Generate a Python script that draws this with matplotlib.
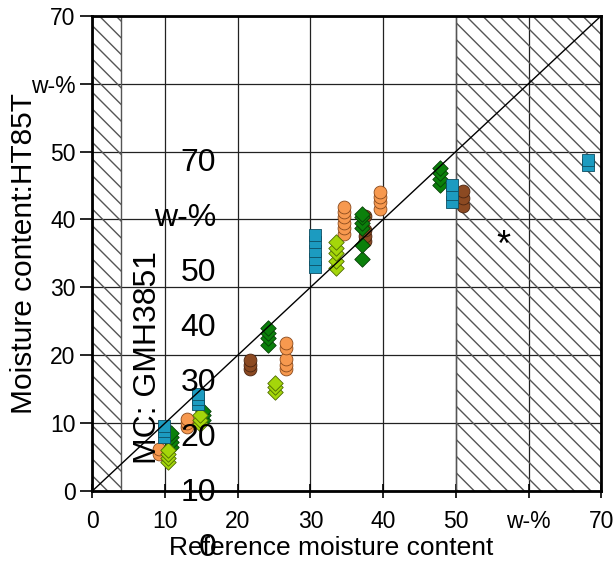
import matplotlib.pyplot as plt
from matplotlib.patches import Rectangle

plt.rcParams["font.family"] = ["Liberation Sans", "DejaVu Sans"]
plt.rcParams["hatch.color"] = "#555555"
plt.rcParams["hatch.linewidth"] = 1.0

# readings: reference moisture content (x) vs meter reading (y), w-%
blue_x = [9.8, 9.8, 9.8, 14.5, 14.5, 14.5, 30.6, 30.6, 30.6, 30.6, 30.6,
          49.5, 49.5, 49.5, 68.2, 68.2]
blue_y = [8.0, 8.8, 9.5, 12.8, 13.6, 14.3, 33.0, 34.2, 35.4, 36.6, 37.7,
          42.5, 43.8, 45.0, 48.0, 48.8]

orange_x = [9.2, 9.2, 13.0, 13.0, 13.0, 26.6, 26.6, 26.6, 26.6, 26.6,
            34.6, 34.6, 34.6, 34.6, 34.6, 34.6, 39.6, 39.6, 39.6, 39.6]
orange_y = [5.5, 6.2, 9.4, 10.0, 10.6, 17.9, 18.6, 19.4, 21.0, 21.8,
            37.9, 38.7, 39.5, 40.3, 41.1, 41.8, 41.6, 42.5, 43.3, 44.0]

brown_x = [21.7, 21.7, 21.7, 37.5, 37.5, 37.5, 37.5, 51.0, 51.0, 51.0]
brown_y = [18.0, 18.6, 19.3, 36.8, 37.6, 38.5, 40.5, 42.0, 43.2, 44.2]

green_x = [10.8, 10.8, 10.8, 10.8, 15.2, 15.2, 15.2, 24.2, 24.2, 24.2, 24.2,
           37.1, 37.1, 37.1, 37.1, 37.1, 37.1, 47.8, 47.8, 47.8, 47.8]
green_y = [6.5, 7.2, 7.9, 8.5, 10.5, 11.2, 11.8, 21.5, 22.5, 23.3, 24.0,
           34.2, 36.2, 38.8, 39.5, 40.3, 40.8, 45.0, 46.0, 46.8, 47.5]

lime_x = [10.4, 10.4, 10.4, 10.4, 14.8, 14.8, 14.8, 25.1, 25.1, 25.1,
          33.5, 33.5, 33.5, 33.5, 33.5]
lime_y = [4.2, 4.8, 5.5, 6.0, 9.8, 10.4, 11.2, 14.6, 15.3, 15.9,
          32.8, 33.8, 35.0, 35.8, 36.6]

ticks = [0, 10, 20, 30, 40, 50, 60, 70]
tick_labels = ["0", "10", "20", "30", "40", "50", "w-%", "70"]
stray_labels = ["70", "w-%", "50", "40", "30", "20", "10", "0"]

fig = plt.figure(figsize=(6.16, 5.63), dpi=100)
ax = fig.add_axes([0.150, 0.128, 0.826, 0.844])

ax.set_xlim(0, 70)
ax.set_ylim(0, 70)

# out-of-range zones
ax.add_patch(Rectangle((0, 0), 4, 70, fill=False, hatch="\\\\",
                       edgecolor="#555555", lw=1.0, zorder=1))
ax.add_patch(Rectangle((50, 0), 20, 70, fill=False, hatch="\\\\",
                       edgecolor="#555555", lw=1.0, zorder=1))

ax.grid(True, color="#222222", lw=0.9, zorder=0)
ax.set_axisbelow(True)

ax.scatter(orange_x, orange_y, marker="o", s=85, color="#f7994f",
           edgecolor="#8a4a1c", lw=0.6, zorder=3)
ax.scatter(brown_x, brown_y, marker="o", s=85, color="#8c4a22",
           edgecolor="#4a2410", lw=0.6, zorder=3)
ax.scatter(green_x, green_y, marker="D", s=62, color="#0b800b",
           edgecolor="#063f06", lw=0.6, zorder=4)
ax.scatter(lime_x, lime_y, marker="D", s=62, color="#a4d60a",
           edgecolor="#4d6a00", lw=0.6, zorder=4)
ax.scatter(blue_x, blue_y, marker="s", s=80, color="#1c9bc0",
           edgecolor="#0d4e62", lw=0.6, zorder=5)

ax.plot([0, 70], [0, 70], color="black", lw=1.0, zorder=6)

ax.set_xticks(ticks)
ax.set_xticklabels(tick_labels)
ax.set_yticks(ticks)
ax.set_yticklabels(tick_labels)
ax.tick_params(axis="x", direction="inout", length=10, width=1.2,
               labelsize=16.5, pad=9)
ax.tick_params(axis="y", direction="out", length=9, width=1.2,
               labelsize=16.5, pad=3)

for s in ax.spines.values():
    s.set_linewidth(2)
    s.set_color("black")

ax.set_ylabel("Moisture content:HT85T", fontsize=21.5)
ax.yaxis.set_label_coords(-0.107, 0.5)
ax.set_xlabel("Reference moisture content", fontsize=19)
ax.xaxis.set_label_coords(0.469, -0.095)

# stray second label set drawn over the plot
for i, lab in enumerate(stray_labels):
    fig.text(216 / 616, 1 - (163 + 55 * i) / 563, lab, ha="right",
             va="center", fontsize=23)
fig.text(148 / 616, 1 - 358 / 563, "MC: GMH3851", rotation=90,
         ha="center", va="center", fontsize=23)
ax.text(56.5, 36.0, "*", ha="center", va="center", fontsize=26)

fig.savefig("out.png", dpi=100)
